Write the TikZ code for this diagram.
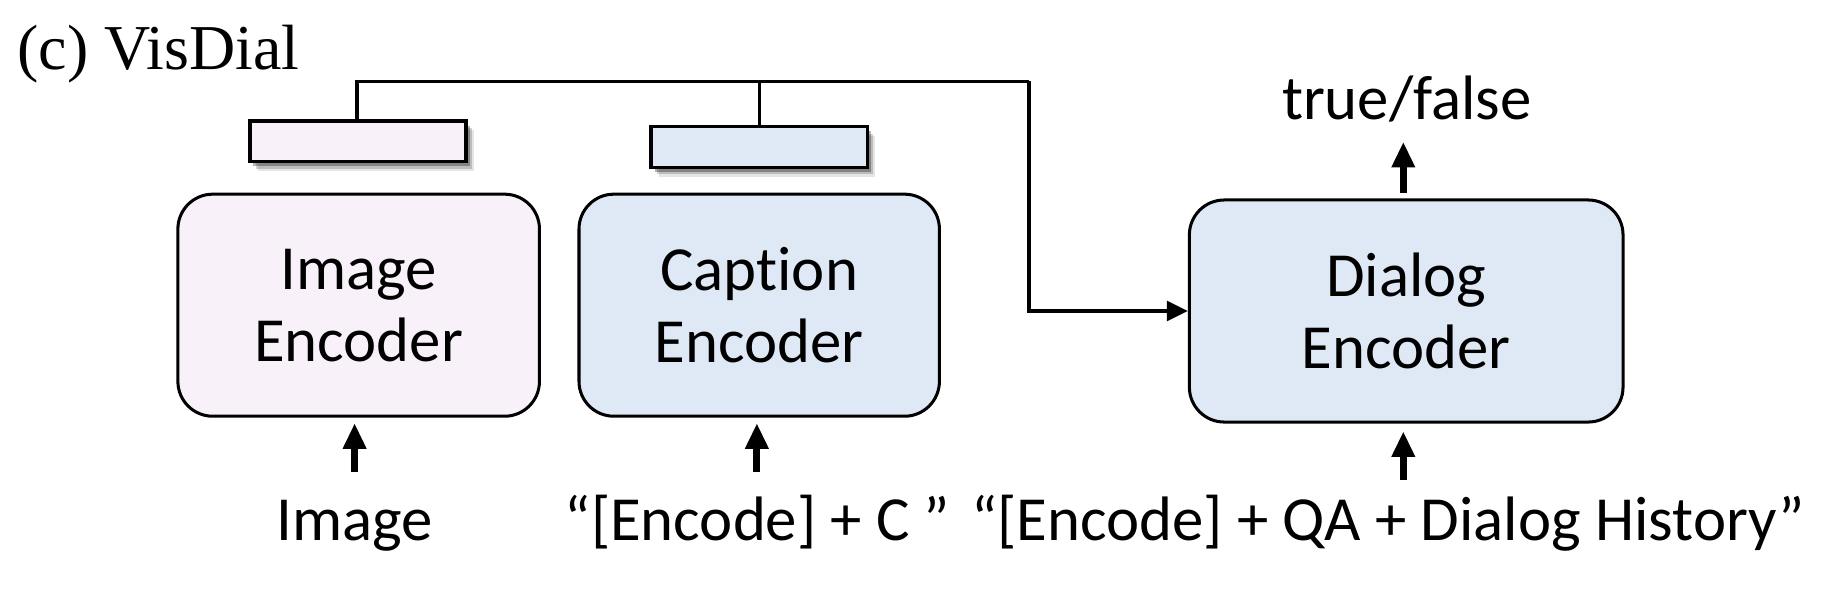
\documentclass[tikz,border=0pt]{standalone}
\usepackage{fontspec}
\setmainfont[Ligatures={NoCommon}]{Carlito}
\newfontfamily\titlefont{Liberation Serif}
\usetikzlibrary{arrows.meta,shadows}
\definecolor{pinkfill}{HTML}{F8F1F9}
\definecolor{bluefill}{HTML}{DEE9F5}
\begin{document}
\begin{tikzpicture}[x=1pt,y=-1pt,
  enc/.style={draw=black,line width=2.6pt,rounded corners=30pt,minimum width=#1,minimum height=191pt,align=center,inner sep=0pt,font=\fontsize{54}{62}\selectfont},
  vec/.style={draw=black,line width=3pt,minimum height=35pt,minimum width=186pt,inner sep=0pt,
    drop shadow={shadow xshift=7pt,shadow yshift=-8pt,opacity=0.10,fill=black},
    drop shadow={shadow xshift=5pt,shadow yshift=-6pt,opacity=0.18,fill=black},
    drop shadow={shadow xshift=3pt,shadow yshift=-4pt,opacity=0.30,fill=black}},
  lbl/.style={anchor=base,inner sep=0pt,font=\fontsize{54}{62}\selectfont},
  bigarrow/.style={line width=6pt,-{Triangle[length=22pt,width=19pt]}},
  conn/.style={line width=2.7pt,-{Triangle[length=18pt,width=17pt]}}]
\useasboundingbox (0,0) rectangle (1568,515.2);
\node[anchor=base west,inner sep=0pt,font=\titlefont\fontsize{55}{60}\selectfont] (title) at (15,60) {(c) VisDial};
\node[enc=311pt,fill=pinkfill] (img) at (308.5,262.5) {Image\\Encoder};
\node[enc=310pt,fill=bluefill] (cap) at (653,262.5) {Caption\\Encoder};
\node[enc=373pt,fill=bluefill] (dia) at (1209.5,267.5) {Dialog\\Encoder};
\node[vec,fill=pinkfill] (s1) at (308,121.5) {};
\node[vec,fill=bluefill] (s2) at (653,126.5) {};
\coordinate (j1) at (307,70);
\coordinate (j2) at (653,70);
\coordinate (j3) at (885,70);
\coordinate (j4) at (885,267.5);
\draw[line width=2.7pt] (s1.north -| j1) -- (j1) -- (j3);
\draw[line width=2.7pt] (s2.north) -- (j2);
\draw[conn] (j3) -- (j4) -- (dia.west);
\node[lbl] (limg) at (305,465) {Image};
\node[lbl] (lcap) at (651.5,465) {“[Encode] + C ”};
\node[lbl] (ldia) at (1194,465) {“[Encode] + QA + Dialog History”};
\node[lbl] (lout) at (1210,103) {true/false};
\coordinate (a1) at (305,406);
\coordinate (a2) at (651,406);
\coordinate (a3) at (1207,413);
\coordinate (a4) at (1207,166);
\draw[bigarrow] (a1) -- (305,364);
\draw[bigarrow] (a2) -- (651,364);
\draw[bigarrow] (a3) -- (1207,371);
\draw[bigarrow] (a4) -- (1207,122);
\end{tikzpicture}
\end{document}
